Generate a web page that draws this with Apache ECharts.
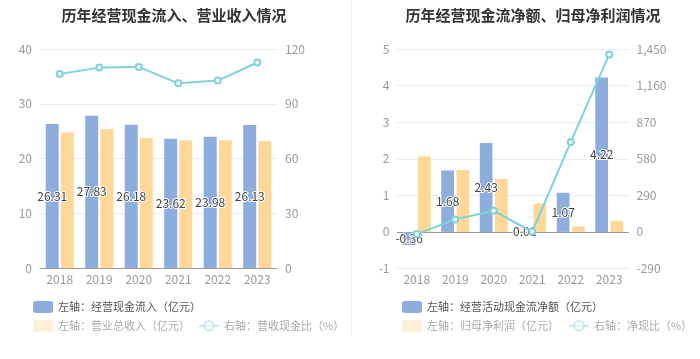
<!DOCTYPE html>
<html><head><meta charset="utf-8">
<script src="https://cdn.jsdelivr.net/npm/echarts@6/dist/echarts.min.js"></script>
<style>html,body{margin:0;padding:0;background:#fff}#c{width:700px;height:359px}</style>
</head><body><div id="c"></div>
<script>
const years = ['2018','2019','2020','2021','2022','2023'];
// Left chart
const cashInflow = [26.31, 27.83, 26.18, 23.62, 23.98, 26.13];
const revenue = [24.75, 25.35, 23.75, 23.35, 23.35, 23.2];
const cashRevRatio = [106.3, 109.8, 110.2, 101.2, 102.7, 112.6];
// Right chart
const netCashFlow = [-0.36, 1.68, 2.43, 0.01, 1.07, 4.22];
const netProfit = [2.06, 1.69, 1.45, 0.77, 0.15, 0.30];
const netCashRatio = [-17.5, 99.4, 167.6, 1.3, 713, 1407];

const FONT = '"Noto Sans CJK SC", "Noto Sans", sans-serif';
const BLUE = '#8DADDC', ORANGE = '#FFD899', CYAN = '#7DD3D8';
const axisLabel = {color: '#999', fontSize: 12, fontFamily: FONT};
const splitLine = {lineStyle: {color: '#E6ECF6'}};
const barLabel = {show: true, position: 'inside', color: '#444', fontSize: 12, fontFamily: FONT,
  textBorderColor: '#fff', textBorderWidth: 2};

function lg(left, top, name, faded, isLine) {
  const item = {name: name};
  if (!isLine) item.icon = 'roundRect';
  if (faded) {
    item.itemStyle = {opacity: 0.4};
    if (isLine) item.lineStyle = {opacity: 0.4};
  }
  return {left: left, top: top, itemWidth: 20, itemHeight: 12, itemGap: 12,
    textStyle: {color: faded ? '#aaa' : '#555', fontSize: 11, fontFamily: FONT},
    data: [item]};
}

const chart = echarts.init(document.getElementById('c'), null, {renderer: 'canvas'});
chart.setOption({
  animation: false,
  textStyle: {fontFamily: FONT},
  graphic: [{type: 'line', shape: {x1: 351.5, y1: 0, x2: 351.5, y2: 335}, style: {stroke: '#eeeeee', lineWidth: 1}}],
  title: [
    {text: '历年经营现金流入、营业收入情况', left: 169, top: 3, textAlign: 'center',
      textStyle: {fontSize: 15, fontWeight: 'bold', color: '#333', fontFamily: FONT}},
    {text: '历年经营现金流净额、归母净利润情况', left: 528, top: 3, textAlign: 'center',
      textStyle: {fontSize: 15, fontWeight: 'bold', color: '#333', fontFamily: FONT}}
  ],
  legend: [
    lg(28, 296, '左轴：经营现金流入（亿元）', false, false),
    lg(28, 315, '左轴：营业总收入（亿元）', true, false),
    lg(193, 315, '右轴：营收现金比（%）', true, true),
    lg(397, 296, '左轴：经营活动现金流净额（亿元）', false, false),
    lg(397, 315, '左轴：归母净利润（亿元）', true, false),
    lg(563, 315, '右轴：净现比（%）', true, true)
  ],
  grid: [
    {left: 40, right: 423, top: 49, bottom: 91},
    {left: 397.5, right: 71.5, top: 49, bottom: 90.5}
  ],
  xAxis: [
    {type: 'category', gridIndex: 0, data: years,
      axisLine: {lineStyle: {color: '#999'}}, axisTick: {alignWithLabel: true, lineStyle: {color: '#999'}},
      axisLabel: Object.assign({margin: 5}, axisLabel)},
    {type: 'category', gridIndex: 1, data: years, position: 'bottom',
      axisLine: {show: false, onZero: false}, axisTick: {show: false},
      axisLabel: Object.assign({margin: 5}, axisLabel)},
    {type: 'category', gridIndex: 1, data: years, position: 'bottom',
      axisLine: {onZero: true, lineStyle: {color: '#999'}}, axisTick: {alignWithLabel: true, lineStyle: {color: '#999'}},
      axisLabel: {show: false}}
  ],
  yAxis: [
    {type: 'value', gridIndex: 0, min: 0, max: 40, interval: 10, axisLabel: Object.assign({margin: 8}, axisLabel), splitLine: splitLine,
      axisLine: {show: false}, axisTick: {show: false}},
    {type: 'value', gridIndex: 0, min: 0, max: 120, interval: 30, axisLabel: Object.assign({margin: 8}, axisLabel), splitLine: {show: false},
      axisLine: {show: false}, axisTick: {show: false}},
    {type: 'value', gridIndex: 1, min: -1, max: 5, interval: 1, axisLabel: Object.assign({margin: 8}, axisLabel), splitLine: splitLine,
      axisLine: {show: false}, axisTick: {show: false}},
    {type: 'value', gridIndex: 1, min: -290, max: 1450, interval: 290, axisLabel: Object.assign({margin: 8}, axisLabel), splitLine: {show: false},
      axisLine: {show: false}, axisTick: {show: false}}
  ],
  series: [
    {name: '左轴：经营现金流入（亿元）', type: 'bar', xAxisIndex: 0, yAxisIndex: 0, data: cashInflow,
      barWidth: 13, barGap: '16%', itemStyle: {color: BLUE}, label: barLabel},
    {name: '左轴：营业总收入（亿元）', type: 'bar', xAxisIndex: 0, yAxisIndex: 0, data: revenue,
      barWidth: 13, barGap: '16%', itemStyle: {color: ORANGE}},
    {name: '右轴：营收现金比（%）', type: 'line', xAxisIndex: 0, yAxisIndex: 1, data: cashRevRatio,
      symbol: 'emptyCircle', symbolSize: 6, lineStyle: {color: CYAN, width: 2}, itemStyle: {color: CYAN}},
    {name: '左轴：经营活动现金流净额（亿元）', type: 'bar', xAxisIndex: 1, yAxisIndex: 2, data: netCashFlow,
      barWidth: 12.7, barGap: '20%', itemStyle: {color: BLUE}, label: barLabel},
    {name: '左轴：归母净利润（亿元）', type: 'bar', xAxisIndex: 1, yAxisIndex: 2, data: netProfit,
      barWidth: 12.7, barGap: '20%', itemStyle: {color: ORANGE}},
    {name: '右轴：净现比（%）', type: 'line', xAxisIndex: 1, yAxisIndex: 3, data: netCashRatio,
      symbol: 'emptyCircle', symbolSize: 6, lineStyle: {color: CYAN, width: 2}, itemStyle: {color: CYAN}}
  ]
});
</script></body></html>
